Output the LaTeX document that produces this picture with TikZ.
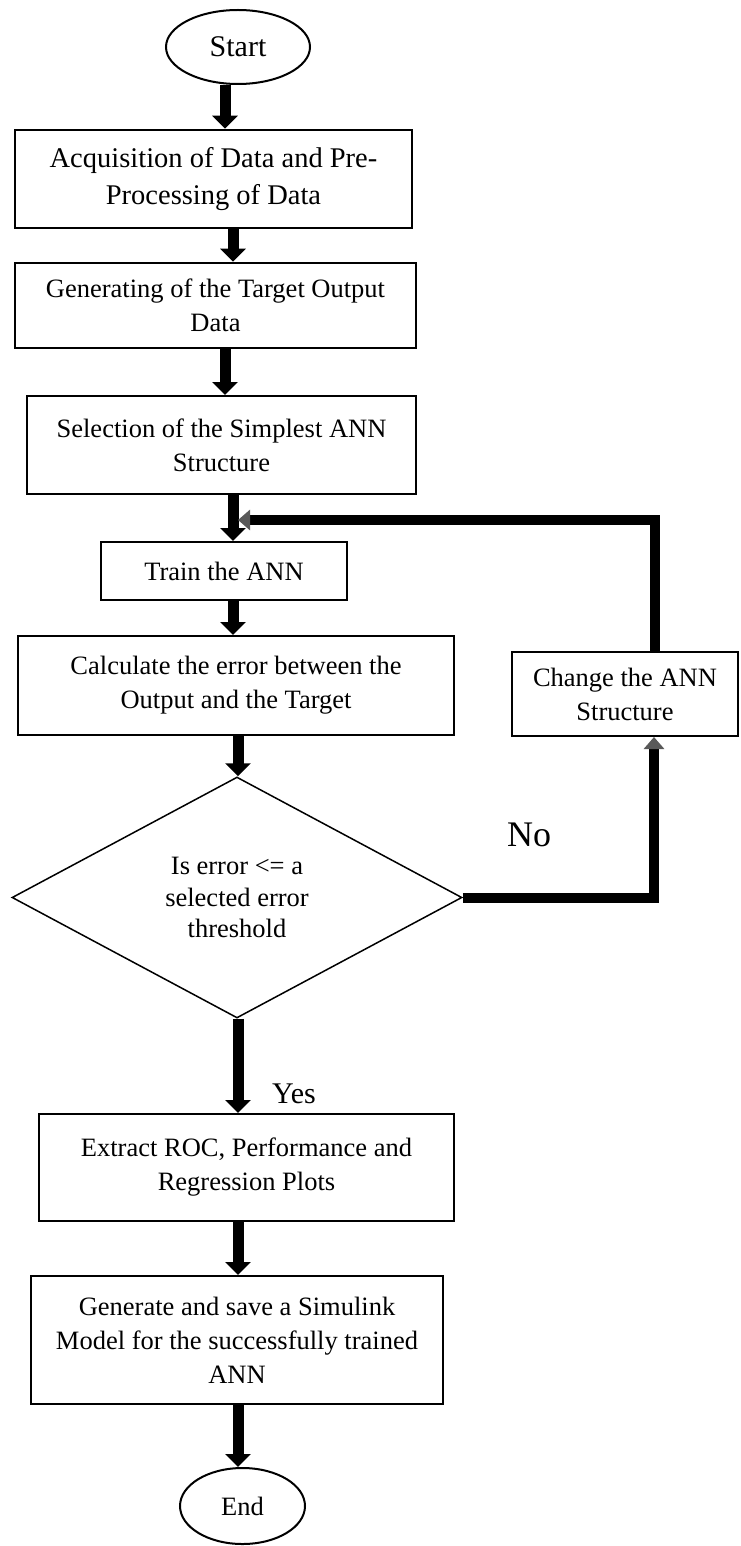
\documentclass[tikz,border=0pt]{standalone}
\usepackage{fontspec}
\setmainfont{Liberation Serif}
\usetikzlibrary{shapes.geometric,arrows.meta}
\begin{document}
\begin{tikzpicture}[x=1pt,y=-1pt,
  box/.style={draw=black,line width=2pt,rectangle,inner sep=0pt,align=center,
    font=\fontsize{26.5}{34}\selectfont},
  terminal/.style={draw=black,line width=2pt,ellipse,inner sep=0pt,
    font=\fontsize{26.5}{32}\selectfont},
  decision/.style={draw=black,line width=1.5pt,diamond,inner sep=0pt,align=center,
    font=\fontsize{26.5}{31.5}\selectfont},
  flow/.style={draw=black,line width=11pt,-{Triangle[width=25pt,length=13pt]}},
  loopflow/.style={draw=black,line width=10pt,line join=miter,
    -{Triangle[width=20pt,length=12pt,color=black!65]}},
  tag/.style={inner sep=0pt}
]
\fill[white] (0,0) rectangle (740,1546);
\useasboundingbox (0,0) rectangle (740,1546);

% process steps
\node[terminal,minimum width=144pt,minimum height=74pt,
      font=\fontsize{30}{36}\selectfont] (start) at (238,47) {Start};
\node[box,line width=2.5pt,minimum width=397pt,minimum height=98pt,
      font=\fontsize{28.5}{37}\selectfont] (acq) at (213.5,179)
  {Acquisition of Data and Pre-\\Processing of Data};
\node[box,line width=2.5pt,minimum width=401pt,minimum height=85pt] (gen) at (215.5,305.5)
  {Generating of the Target Output\\Data};
\node[box,minimum width=389pt,minimum height=98pt] (sel) at (221.5,445)
  {Selection of the Simplest ANN\\Structure};
\node[box,minimum width=246pt,minimum height=58pt] (train) at (224,571) {Train the ANN};
\node[box,minimum width=436pt,minimum height=99pt] (calc) at (236,685.5)
  {Calculate the error between the\\Output and the Target};
\node[box,minimum width=226pt,minimum height=84pt] (change) at (625,694)
  {Change the ANN\\Structure};
\node[decision,minimum width=450pt,minimum height=241pt] (check) at (237,897.5)
  {Is error <= a\\selected error\\threshold};
\node[box,minimum width=415pt,minimum height=107pt] (roc) at (246.5,1167.5)
  {Extract ROC, Performance and\\Regression Plots};
\node[box,minimum width=412pt,minimum height=128pt] (sim) at (237,1340)
  {Generate and save a Simulink\\Model for the successfully trained\\ANN};
\node[terminal,minimum width=125pt,minimum height=76pt] (end) at (242.5,1506) {End};

% branch labels
\node[tag,anchor=base west,font=\fontsize{30}{36}\selectfont] (yes) at (272,1103) {Yes};
\node[tag,anchor=base west,font=\fontsize{36}{42}\selectfont] (no) at (507,846) {No};

% columns of the downward arrows
\coordinate (xa) at (225,0);
\coordinate (xb) at (233,0);
\coordinate (xc) at (238,0);

\draw[flow] (start.south -| xa) -- (acq.north -| xa);
\draw[flow] (acq.south -| xb) -- (gen.north -| xb);
\draw[flow] (gen.south -| xa) -- (sel.north -| xa);
\draw[flow] (sel.south -| xb) -- (train.north -| xb);
\draw[flow] (train.south -| xb) -- (calc.north -| xb);
\draw[flow] (calc.south -| xc) -- (check.north -| xc);
\draw[flow] (check.south -| xc) -- (roc.north -| xc);
\draw[flow] (roc.south -| xc) -- (sim.north -| xc);
\draw[flow] (sim.south -| xc) -- (end.north -| xc);

% loop back: No branch and structure change
\coordinate (nocorner) at (654,902);
\coordinate (fbcorner) at (655,520);
\coordinate (fbjoin) at (238,520);
\draw[loopflow] (check.east) -- (check.east -| nocorner) -- (change.south -| nocorner);
\draw[loopflow] (change.north -| fbcorner) -- (fbcorner) -- (fbjoin);
\end{tikzpicture}
\end{document}
